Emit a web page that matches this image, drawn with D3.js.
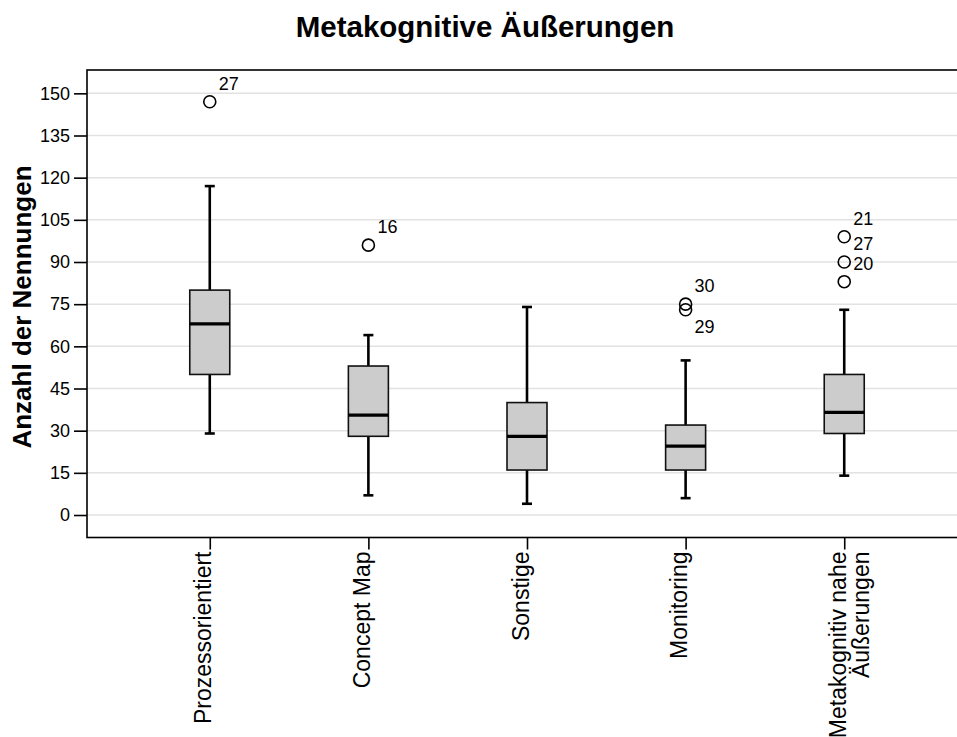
<!DOCTYPE html>
<html>
<head>
<meta charset="utf-8">
<script src="https://cdn.jsdelivr.net/npm/d3@7"></script>
<style>
  html, body { margin: 0; padding: 0; background: #fff; }
  svg { display: block; }
  text { font-family: "Liberation Sans", Arial, sans-serif; fill: #000; }
</style>
</head>
<body>
<svg id="chart" width="957" height="737"></svg>
<script>
// ---- Data ----
const title = "Metakognitive Äußerungen";
const yTitle = "Anzahl der Nennungen";
const categories = ["Prozessorientiert", "Concept Map", "Sonstige", "Monitoring", "Metakognitiv nahe Äußerungen"];
const categoryLines = [["Prozessorientiert"], ["Concept Map"], ["Sonstige"], ["Monitoring"], ["Metakognitiv nahe", "Äußerungen"]];
const whiskerLow  = [29, 7, 4, 6, 14];
const q1          = [50, 28, 16, 16, 29];
const median      = [68, 35.5, 28, 24.5, 36.5];
const q3          = [80, 53, 40, 32, 50];
const whiskerHigh = [117, 64, 74, 55, 73];
const outlierValues = [[147], [96], [], [75, 73], [99, 90, 83]];
const outlierLabels = [["27"], ["16"], [], ["30", "29"], ["21", "27", "20"]];
const yTicks = [0, 15, 30, 45, 60, 75, 90, 105, 120, 135, 150];

// ---- Layout ----
const svg = d3.select("#chart");
const plotLeft = 87, plotRight = 967, plotTop = 70, plotBottom = 537.5;

const x = d3.scalePoint().domain(categories).range([plotLeft, plotRight]).padding(0.774);
const y = d3.scaleLinear().domain([-8, 158.3]).range([plotBottom, plotTop]);

// gridlines
svg.append("g").selectAll("line").data(yTicks).join("line")
  .attr("x1", plotLeft).attr("x2", plotRight)
  .attr("y1", d => y(d)).attr("y2", d => y(d))
  .attr("stroke", "#e2e2e2").attr("stroke-width", 1.5);

// frame
svg.append("rect")
  .attr("x", plotLeft).attr("y", plotTop)
  .attr("width", plotRight - plotLeft).attr("height", plotBottom - plotTop)
  .attr("fill", "none").attr("stroke", "#000").attr("stroke-width", 1.6);

// y axis
const yAxis = d3.axisLeft(y).tickValues(yTicks).tickSize(13).tickPadding(4).tickFormat(d3.format("d"));
const gy = svg.append("g").attr("transform", `translate(${plotLeft},0)`).call(yAxis);
gy.select(".domain").remove();
gy.selectAll(".tick line").attr("stroke", "#000").attr("stroke-width", 1.6);
gy.selectAll(".tick text").attr("font-size", 18).attr("font-family", "Liberation Sans, Arial, sans-serif").attr("fill", "#000");

// x axis
const xAxis = d3.axisBottom(x).tickSize(12).tickFormat("");
const gx = svg.append("g").attr("transform", `translate(0,${plotBottom})`).call(xAxis);
gx.select(".domain").remove();
gx.selectAll(".tick line").attr("stroke", "#000").attr("stroke-width", 1.6);

// x labels (rotated)
categories.forEach((c, i) => {
  const lines = categoryLines[i];
  lines.forEach((ln, j) => {
    svg.append("text")
      .attr("transform", `translate(${x(c) + 1.5 + j * 23},${plotBottom + 14}) rotate(-90)`)
      .attr("text-anchor", "end")
      .attr("font-size", 23)
      .text(ln);
  });
});

// boxes
const boxW = 40, capW = 10;
const g = svg.append("g");
categories.forEach((c, i) => {
  const cx = x(c);
  g.append("line").attr("x1", cx).attr("x2", cx)
    .attr("y1", y(whiskerHigh[i])).attr("y2", y(q3[i]))
    .attr("stroke", "#000").attr("stroke-width", 2.6);
  g.append("line").attr("x1", cx).attr("x2", cx)
    .attr("y1", y(q1[i])).attr("y2", y(whiskerLow[i]))
    .attr("stroke", "#000").attr("stroke-width", 2.6);
  [whiskerHigh[i], whiskerLow[i]].forEach(v => {
    g.append("line").attr("x1", cx - capW / 2).attr("x2", cx + capW / 2)
      .attr("y1", y(v)).attr("y2", y(v))
      .attr("stroke", "#000").attr("stroke-width", 2.6);
  });
  g.append("rect")
    .attr("x", cx - boxW / 2).attr("width", boxW)
    .attr("y", y(q3[i])).attr("height", y(q1[i]) - y(q3[i]))
    .attr("fill", "#cccccc").attr("stroke", "#111").attr("stroke-width", 1.6);
  g.append("line").attr("x1", cx - boxW / 2).attr("x2", cx + boxW / 2)
    .attr("y1", y(median[i])).attr("y2", y(median[i]))
    .attr("stroke", "#000").attr("stroke-width", 3.2);
  let prevLabelY = null;
  outlierValues[i].forEach((v, k) => {
    const cy = y(v);
    g.append("circle").attr("cx", cx).attr("cy", cy).attr("r", 6)
      .attr("fill", "none").attr("stroke", "#000").attr("stroke-width", 1.6);
    let ly = cy - 12;
    if (prevLabelY !== null && Math.abs(ly - prevLabelY) < 16) ly = cy + 23;
    prevLabelY = ly;
    g.append("text").attr("x", cx + 9).attr("y", ly)
      .attr("font-size", 18).text(outlierLabels[i][k]);
  });
});

// title
svg.append("text").attr("x", 485).attr("y", 37)
  .attr("text-anchor", "middle").attr("font-size", 29.5).attr("font-weight", "bold")
  .text(title);

// y title
svg.append("text").attr("transform", "translate(31,307) rotate(-90)")
  .attr("text-anchor", "middle").attr("font-size", 26).attr("font-weight", "bold")
  .text(yTitle);
</script>
</body>
</html>
